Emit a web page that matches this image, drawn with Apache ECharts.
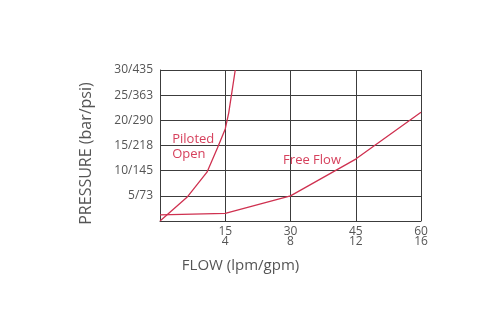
<!DOCTYPE html>
<html>
<head>
<meta charset="utf-8">
<script src="https://cdn.jsdelivr.net/npm/echarts@6/dist/echarts.min.js"></script>
<style>
  html, body { margin: 0; padding: 0; background: #fff; }
  #chart { width: 478px; height: 330px; }
</style>
</head>
<body>
<div id="chart"></div>
<script>
// flow (lpm) / pressure (bar)
const pilotedOpen = [[0, 0], [6.2, 4.7], [10.8, 9.7], [13.2, 14.5], [15, 18.3], [15.8, 21.5], [17.3, 30]];
const freeFlow = [[0, 1.2], [15, 1.5], [30, 5.0], [45, 12.3], [60, 21.6]];

const xTickLabels = { 15: "15\n4", 30: "30\n8", 45: "45\n12", 60: "60\n16" };
const yTickLabels = { 5: "5/73", 10: "10/145", 15: "15/218", 20: "20/290", 25: "25/363", 30: "30/435" };

const red = "#cf3150";
const labelRed = "#d6405c";
const gridColor = "#3c3c3c";
const textColor = "#555";
const font = "Open Sans";

const chart = echarts.init(document.getElementById("chart"));

chart.setOption({
  animation: false,
  grid: { left: 160, top: 70, right: 57, bottom: 109 },
  xAxis: {
    type: "value",
    min: 0,
    max: 60,
    interval: 15,
    name: "FLOW (lpm/gpm)",
    nameLocation: "middle",
    nameGap: 37,
    nameTextStyle: { color: textColor, fontSize: 15, fontFamily: font, padding: [0, 100, 0, 0] },
    axisLine: { show: true, lineStyle: { color: gridColor, width: 1 } },
    axisTick: { show: false },
    splitLine: { show: true, lineStyle: { color: gridColor, width: 1 } },
    axisLabel: {
      color: textColor,
      fontSize: 12,
      fontFamily: font,
      lineHeight: 10,
      margin: 6,
      formatter: (v) => xTickLabels[v] || "",
    },
  },
  yAxis: {
    type: "value",
    min: 0,
    max: 30,
    interval: 5,
    name: "PRESSURE (bar/psi)",
    nameLocation: "middle",
    nameGap: 66,
    nameTextStyle: { color: textColor, fontSize: 16, fontFamily: font, padding: [0, 16, 0, 0] },
    axisLine: { show: true, lineStyle: { color: gridColor, width: 1 } },
    axisTick: { show: false },
    splitLine: { show: true, lineStyle: { color: gridColor, width: 1 } },
    axisLabel: {
      color: textColor,
      fontSize: 12,
      fontFamily: font,
      margin: 7,
      formatter: (v) => yTickLabels[v] || "",
    },
  },
  series: [
    {
      name: "Piloted Open",
      type: "line",
      data: pilotedOpen,
      symbol: "none",
      lineStyle: { color: red, width: 1.3 },
      markPoint: {
        symbol: "circle",
        symbolSize: 0,
        label: {
          show: true,
          formatter: "Piloted\nOpen",
          color: labelRed,
          fontSize: 13,
          fontFamily: font,
          lineHeight: 15,
          align: "left",
          verticalAlign: "middle",
        },
        data: [{ coord: [2.8, 14.8] }],
      },
    },
    {
      name: "Free Flow",
      type: "line",
      data: freeFlow,
      symbol: "none",
      lineStyle: { color: red, width: 1.3 },
      markPoint: {
        symbol: "circle",
        symbolSize: 0,
        label: {
          show: true,
          formatter: "Free Flow",
          color: labelRed,
          fontSize: 13,
          fontFamily: font,
          align: "left",
          verticalAlign: "middle",
        },
        data: [{ coord: [28.3, 12.0] }],
      },
    },
  ],
});
</script>
</body>
</html>
